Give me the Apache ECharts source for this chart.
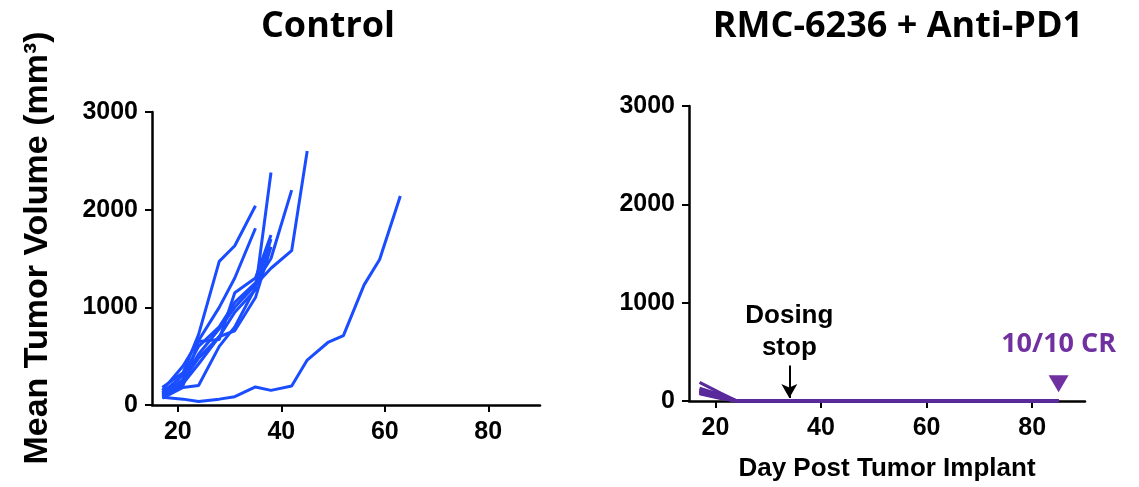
<!DOCTYPE html>
<html>
<head>
<meta charset="utf-8">
<script src="https://cdn.jsdelivr.net/npm/echarts@6/dist/echarts.min.js"></script>
<style>
  html, body { margin: 0; padding: 0; background: #fff; }
  #chart { width: 1139px; height: 487px; }
</style>
</head>
<body>
<div id="chart"></div>
<script>
// ---------- data ----------
const titles = ['Control', 'RMC-6236 + Anti-PD1'];
const yTicks = [0, 1000, 2000, 3000];
const xTicks = [20, 40, 60, 80];
const yAxisTitle = 'Mean Tumor Volume (mm³)';
const xAxisTitle = 'Day Post Tumor Implant';

// control group: measurement days and per-mouse volumes (mm3)
const controlDays = [17, 21, 24, 28, 31, 35, 38, 42, 45, 49, 52, 56, 59, 63];
const ctrl1 = [110, 260, 520, 780, 1000, 1230, 1400, 1580, 2600];
const ctrl2 = [90, 220, 420, 700, 950, 1180, 2380];
const ctrl3 = [130, 300, 600, 800, 1050, 1250, 1500, 2200];
const ctrl4 = [180, 330, 720, 1470, 1630, 2040];
const ctrl5 = [150, 400, 660, 1000, 1300, 1810];
const ctrl6 = [100, 200, 650, 670, 1150, 1300, 1740];
const ctrl7 = [70, 180, 200, 600, 800, 1200, 1700];
const ctrl8 = [120, 250, 480, 700, 760, 1100, 1620];
const ctrl9 = [80, 60, 35, 60, 85, 185, 150, 195, 460, 640, 710, 1230, 1490, 2140];

// treated group
const treatedDays = [17, 21, 24, 31, 38, 45, 52, 59, 66, 73, 80, 85];
const trt1 = [190, 80, 0, 0, 0, 0, 0, 0, 0, 0, 0, 0];
const trt2 = [130, 60, 0, 0, 0, 0, 0, 0, 0, 0, 0, 0];
const trt3 = [100, 50, 0, 0, 0, 0, 0, 0, 0, 0, 0, 0];
const trt4 = [90, 40, 0, 0, 0, 0, 0, 0, 0, 0, 0, 0];
const trt5 = [80, 30, 0, 0, 0, 0, 0, 0, 0, 0, 0, 0];
const trt6 = [110, 70, 0, 0, 0, 0, 0, 0, 0, 0, 0, 0];
const trt7 = [95, 45, 0, 0, 0, 0, 0, 0, 0, 0, 0, 0];
const trt8 = [85, 35, 0, 0, 0, 0, 0, 0, 0, 0, 0, 0];
const trt9 = [105, 55, 0, 0, 0, 0, 0, 0, 0, 0, 0, 0];
const trt10 = [75, 25, 0, 0, 0, 0, 0, 0, 0, 0, 0, 0];

// annotations (data coordinates)
const dosingStopDay = 34;
const dosingArrowFrom = 360;
const dosingArrowTo = 30;
const dosingLabelValue = 700;
const crDay = 85;
const crMarkerValue = 175;
const crLabelValue = 580;
const crText = '10/10 CR';
const dosingText = 'Dosing\nstop';

// ---------- build ----------
const zip = (xs, ys) => ys.map((v, i) => [xs[i], v]);
const controlSets = [ctrl1, ctrl2, ctrl3, ctrl4, ctrl5, ctrl6, ctrl7, ctrl8, ctrl9];
const treatedSets = [trt1, trt2, trt3, trt4, trt5, trt6, trt7, trt8, trt9, trt10];

const BLUE = '#1a4dff';
const PURPLE = '#5a2a9c';
const PURPLE_TXT = '#7030a0';
const AX = '#000';
const tickFont = { fontFamily: 'Liberation Sans, Arial, sans-serif', fontWeight: 'bold', fontSize: 25, color: '#000' };

function xAxisCfg(gi, withName) {
  return {
    type: 'value', gridIndex: gi, min: 15, max: 90,
    axisLine: { show: true, onZero: false, lineStyle: { color: AX, width: 2.5 } },
    axisTick: { show: true, length: 7, lineStyle: { color: AX, width: 2 }, customValues: xTicks },
    axisLabel: Object.assign({ margin: 15, customValues: xTicks, formatter: v => String(v) }, tickFont),
    splitLine: { show: false },
    name: withName ? xAxisTitle : '',
    nameLocation: 'middle', nameGap: 55,
    nameTextStyle: { fontFamily: 'Liberation Sans, Arial, sans-serif', fontWeight: 'bold', fontSize: 26, color: '#000' }
  };
}
function yAxisCfg(gi) {
  return {
    type: 'value', gridIndex: gi, min: yTicks[0], max: yTicks[yTicks.length - 1], interval: 1000,
    axisLine: { show: true, lineStyle: { color: AX, width: 2.5 } },
    axisTick: { show: true, length: 7, lineStyle: { color: AX, width: 2 } },
    axisLabel: Object.assign({ margin: 14, formatter: v => String(v) }, tickFont),
    splitLine: { show: false }
  };
}

const series = [];
controlSets.forEach(vals => series.push({
  type: 'line', xAxisIndex: 0, yAxisIndex: 0, data: zip(controlDays, vals),
  showSymbol: false, symbol: 'none', silent: true,
  lineStyle: { color: BLUE, width: 3 }
}));
treatedSets.forEach(vals => series.push({
  type: 'line', xAxisIndex: 1, yAxisIndex: 1, data: zip(treatedDays, vals),
  showSymbol: false, symbol: 'none', silent: true,
  lineStyle: { color: PURPLE, width: 3.2 }
}));
// dosing-stop arrow
series.push({
  type: 'line', xAxisIndex: 1, yAxisIndex: 1, data: [], silent: true,
  markLine: {
    silent: true, animation: false,
    symbol: ['none', 'arrow'], symbolSize: [12, 14],
    lineStyle: { color: '#000', width: 2, type: 'solid', opacity: 1 },
    label: { show: false },
    data: [[{ coord: [dosingStopDay, dosingArrowFrom] }, { coord: [dosingStopDay, dosingArrowTo] }]]
  }
});
// dosing-stop text
series.push({
  type: 'scatter', xAxisIndex: 1, yAxisIndex: 1, symbolSize: 1, silent: true,
  itemStyle: { opacity: 0 },
  data: [[dosingStopDay, dosingLabelValue]],
  label: {
    show: true, position: 'inside', formatter: dosingText, opacity: 1,
    fontFamily: 'Liberation Sans, Arial, sans-serif', fontWeight: 'bold', fontSize: 26,
    lineHeight: 32, color: '#000', align: 'center', verticalAlign: 'middle'
  }
});
// CR marker
series.push({
  type: 'scatter', xAxisIndex: 1, yAxisIndex: 1, silent: true,
  data: [[crDay, crMarkerValue]],
  symbol: 'triangle', symbolRotate: 180, symbolSize: [20, 17],
  itemStyle: { color: PURPLE_TXT, opacity: 1 }
});
// CR text
series.push({
  type: 'scatter', xAxisIndex: 1, yAxisIndex: 1, symbolSize: 1, silent: true,
  itemStyle: { opacity: 0 },
  data: [[crDay, crLabelValue]],
  label: {
    show: true, position: 'inside', formatter: crText, opacity: 1,
    fontFamily: 'Open Sans, sans-serif', fontWeight: 'bold', fontSize: 27,
    color: PURPLE_TXT, align: 'center', verticalAlign: 'middle'
  }
});

const option = {
  animation: false,
  backgroundColor: '#fff',
  title: [
    { text: titles[0], left: 323, top: 4, textAlign: 'center',
      textStyle: { fontFamily: 'Open Sans, sans-serif', fontWeight: 'bold', fontSize: 36, color: '#000' } },
    { text: titles[1], left: 893, top: 4, textAlign: 'center',
      textStyle: { fontFamily: 'Open Sans, sans-serif', fontWeight: 'bold', fontSize: 36, color: '#000' } }
  ],
  grid: [
    { left: 152, top: 112, width: 388, height: 293 },
    { left: 689, top: 106, width: 396, height: 298 }
  ],
  xAxis: [xAxisCfg(0, false), xAxisCfg(1, true)],
  yAxis: [yAxisCfg(0), yAxisCfg(1)],
  graphic: [{
    type: 'text', x: 38, y: 248, rotation: Math.PI / 2,
    style: {
      text: yAxisTitle, x: 0, y: 0, align: 'center', verticalAlign: 'middle',
      font: 'bold 34px "Liberation Sans", Arial, sans-serif', fill: '#000'
    }
  }],
  series: series
};

const chart = echarts.init(document.getElementById('chart'), null, { renderer: 'canvas' });
chart.setOption(option);
</script>
</body>
</html>
